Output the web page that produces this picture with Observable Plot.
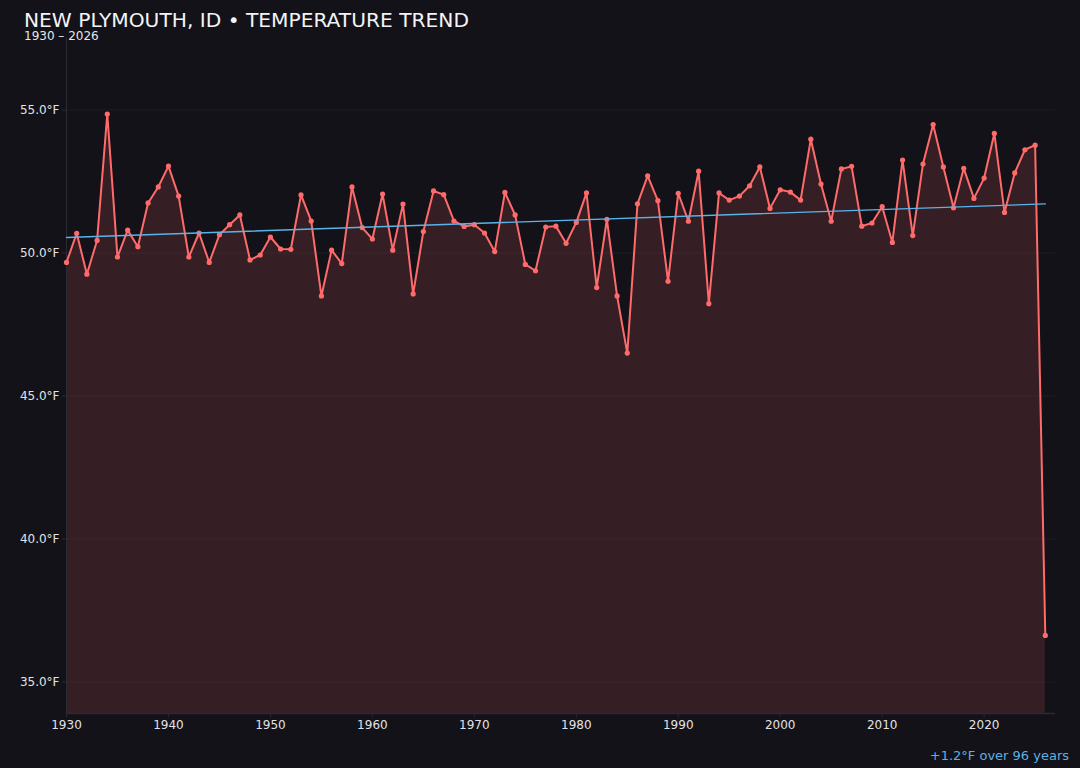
<!DOCTYPE html>
<html><head><meta charset="utf-8">
<script src="https://cdn.jsdelivr.net/npm/d3@7"></script>
<script src="https://cdn.jsdelivr.net/npm/@observablehq/plot@0.6"></script>
<style>
html,body{margin:0;padding:0;background:#131218;}
body{width:1080px;height:768px;overflow:hidden;position:relative;font-family:"DejaVu Sans",sans-serif;}
#title{position:absolute;left:24px;top:10.3px;font-size:20.2px;line-height:1;color:#f4f4f6;white-space:nowrap;}
#sub{position:absolute;left:24px;top:29.5px;font-size:12px;line-height:1;color:#e6e6ea;white-space:nowrap;}
#cap{position:absolute;right:11px;top:749px;font-size:13px;line-height:1;color:#5ab0e2;white-space:nowrap;}
#chart{position:absolute;left:0;top:0;}
</style></head>
<body>
<div id="chart"></div>
<div id="title">NEW PLYMOUTH, ID • TEMPERATURE TREND</div>
<div id="sub">1930 – 2026</div>
<div id="cap">+1.2°F over 96 years</div>
<script>
const years = d3.range(1930, 2027);
const temps = [
49.67,50.69,49.26,50.44,54.86,49.86,50.80,50.22,51.75,52.31,
53.04,51.99,49.86,50.70,49.67,50.64,50.99,51.33,49.76,49.93,
50.56,50.14,50.13,52.03,51.12,48.50,50.10,49.63,52.31,50.89,
50.49,52.06,50.10,51.71,48.57,50.75,52.17,52.04,51.12,50.93,
50.99,50.70,50.05,52.12,51.33,49.60,49.38,50.91,50.94,50.34,
51.07,52.10,48.79,51.18,48.50,46.50,51.72,52.70,51.83,49.01,
52.09,51.11,52.86,48.23,52.10,51.85,51.99,52.35,53.01,51.56,
52.21,52.13,51.85,53.98,52.41,51.11,52.94,53.03,50.94,51.05,
51.62,50.37,53.25,50.61,53.11,54.49,53.01,51.58,52.96,51.91,
52.62,54.18,51.42,52.80,53.61,53.77,36.63
];
const yTicks = [35, 40, 45, 50, 55];
const xTicks = [1930, 1940, 1950, 1960, 1970, 1980, 1990, 2000, 2010, 2020];
const yDomain = [33.9, 57.5];
const xDomain = [1930, 2027];

const data = years.map((year, i) => ({year, temp: temps[i]}));

const lineColor = "#ff6b6b";
const trendColor = "#5ab4ea";
const axisColor = "#2c2b33";
const textColor = "#e2e2e6";

const chart = Plot.plot({
  width: 1080,
  height: 768,
  marginLeft: 66,
  marginRight: 25,
  marginTop: 38,
  marginBottom: 55,
  style: {background: "transparent", fontFamily: "DejaVu Sans, sans-serif", fontSize: "12px", color: textColor, overflow: "visible"},
  x: {domain: xDomain},
  y: {domain: yDomain},
  marks: [
    Plot.gridY(yTicks, {stroke: "#ffffff", strokeOpacity: 0.05, strokeWidth: 1}),
    Plot.areaY(data, {x: "year", y1: yDomain[0], y2: "temp", fill: lineColor, fillOpacity: 0.15}),
    Plot.ruleX([xDomain[0]], {stroke: axisColor, strokeWidth: 1}),
    Plot.ruleY([yDomain[0]], {stroke: axisColor, strokeWidth: 1.5}),
    Plot.axisY({ticks: yTicks, tickFormat: d => d.toFixed(1) + "°F", tickSize: 4, tickPadding: 3, stroke: axisColor, fill: textColor, label: null}),
    Plot.axisX({ticks: xTicks, tickFormat: d => String(d), tickSize: 4, tickPadding: 3, stroke: axisColor, fill: textColor, label: null}),
    Plot.lineY(data, {x: "year", y: "temp", stroke: lineColor, strokeWidth: 2}),
    Plot.dot(data, {x: "year", y: "temp", r: 2.6, fill: lineColor, stroke: "none"}),
    Plot.linearRegressionY(data, {x: "year", y: "temp", stroke: trendColor, strokeWidth: 1.4, ci: 0})
  ]
});
document.getElementById("chart").appendChild(chart);
</script>
</body></html>
